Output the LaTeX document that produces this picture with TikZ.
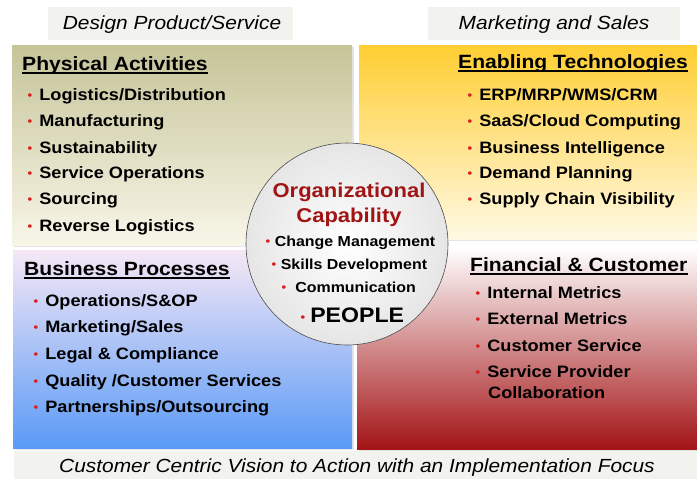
\documentclass[tikz,border=0pt]{standalone}
\usepackage{fontspec}
\setmainfont[FakeStretch=1.1]{Liberation Sans}
\usetikzlibrary{shadows}
\definecolor{bulred}{RGB}{220,30,30}
\definecolor{titlered}{RGB}{160,20,20}
\definecolor{labelgray}{RGB}{242,242,238}
\definecolor{olivetop}{RGB}{198,196,152}
\definecolor{olivebot}{RGB}{248,246,232}
\definecolor{goldtop}{RGB}{255,206,50}
\definecolor{goldbot}{RGB}{255,249,228}
\definecolor{pinktop}{RGB}{246,232,246}
\definecolor{bluebot}{RGB}{90,154,246}
\definecolor{redtop}{RGB}{255,255,255}
\definecolor{redbot}{RGB}{163,20,22}
\newcommand\bul[1][7pt]{{\color{bulred}\fontsize{12}{12}\selectfont\raisebox{1pt}{•}}\hspace{#1}}
\tikzset{
  panel/.style={draw=none, inner sep=0pt, drop shadow={shadow xshift=1.5pt, shadow yshift=-1.5pt, opacity=0.2}},
  lab/.style={fill=labelgray, inner sep=0pt},
  labt/.style={anchor=base, inner sep=0pt, font=\fontsize{19}{22}\selectfont\itshape},
  head/.style={anchor=base west, inner sep=0pt, font=\fontsize{19.2}{22}\selectfont\bfseries},
  item/.style={anchor=base west, inner sep=0pt, font=\fontsize{16.5}{19}\selectfont\bfseries},
  citem/.style={anchor=base west, inner sep=0pt, font=\fontsize{14.5}{17}\selectfont\bfseries},
  uline/.style={line width=1.4pt, black}
}
\begin{document}
\begin{tikzpicture}[x=1pt,y=-1pt]
\useasboundingbox (0,0) rectangle (697,479);
\fill[white] (0,0) rectangle (697,479);
% top labels
\node[lab, minimum width=245pt, minimum height=33pt] (design) at (170.5,23.5) {};
\node[labt] (designt) at (172,30) {Design Product/Service};
\node[lab, minimum width=252pt, minimum height=33pt] (market) at (554,23.5) {};
\node[labt] (markett) at (554,30) {Marketing and Sales};
% panels
\node[panel, top color=olivetop, bottom color=olivebot, minimum width=340pt, minimum height=200pt] (pa) at (182,145) {};
\node[panel, top color=goldtop, bottom color=goldbot, minimum width=338pt, minimum height=194pt] (et) at (528,142) {};
\node[panel, top color=pinktop, bottom color=bluebot, minimum width=339pt, minimum height=198pt] (bp) at (182.5,349) {};
\node[panel, top color=redtop, bottom color=redbot, minimum width=340pt, minimum height=202pt] (fc) at (527,348) {};
% bottom label
\node[lab, minimum width=683pt, minimum height=28pt] (vision) at (355.5,465) {};
\node[labt] (visiont) at (357,472) {Customer Centric Vision to Action with an Implementation Focus};
% Physical Activities
\node[head] (pah) at (22,70) {Physical Activities};
\draw[uline] ([yshift=-3pt]pah.base west) -- ([yshift=-3pt]pah.base east);
\node[item] (pa1) at (27.5,100) {\bul Logistics/Distribution};
\node[item] (pa2) at (27.5,126) {\bul Manufacturing};
\node[item] (pa3) at (27.5,153) {\bul Sustainability};
\node[item] (pa4) at (27.5,178) {\bul Service Operations};
\node[item] (pa5) at (27.5,204) {\bul Sourcing};
\node[item] (pa6) at (27.5,231) {\bul Reverse Logistics};
% Enabling Technologies
\node[head] (eth) at (458,68) {Enabling Technologies};
\draw[uline] ([yshift=-3pt]eth.base west) -- ([yshift=-3pt]eth.base east);
\node[item] (et1) at (467.5,100) {\bul ERP/MRP/WMS/CRM};
\node[item] (et2) at (467.5,126) {\bul SaaS/Cloud Computing};
\node[item] (et3) at (467.5,153) {\bul Business Intelligence};
\node[item] (et4) at (467.5,178) {\bul Demand Planning};
\node[item] (et5) at (467.5,204) {\bul Supply Chain Visibility};
% Business Processes
\node[head] (bph) at (24,275) {Business Processes};
\draw[uline] ([yshift=-3pt]bph.base west) -- ([yshift=-3pt]bph.base east);
\node[item] (bp1) at (33.5,306) {\bul Operations/S\&OP};
\node[item] (bp2) at (33.5,332) {\bul Marketing/Sales};
\node[item] (bp3) at (33.5,359) {\bul Legal \& Compliance};
\node[item] (bp4) at (33.5,386) {\bul Quality /Customer Services};
\node[item] (bp5) at (33.5,412) {\bul Partnerships/Outsourcing};
% Financial & Customer
\node[head] (fch) at (470,271) {Financial \& Customer};
\draw[uline] ([yshift=-3pt]fch.base west) -- ([yshift=-3pt]fch.base east);
\node[item] (fc1) at (475.5,298) {\bul Internal Metrics};
\node[item] (fc2) at (475.5,324) {\bul External Metrics};
\node[item] (fc3) at (475.5,351) {\bul Customer Service};
\node[item] (fc4) at (475.5,377) {\bul Service Provider};
\node[item] (fc5) at (488,398) {Collaboration};
% circle
\node[circle, draw=black!70, line width=0.6pt, minimum size=202pt, inner sep=0pt, shading=radial, inner color=white, outer color=black!10] (oc) at (347,244) {};
\node[anchor=base, inner sep=0pt, font=\fontsize{20}{22}\selectfont\bfseries, text=titlered] (oc1) at (349,197) {Organizational};
\node[anchor=base, inner sep=0pt, font=\fontsize{20}{22}\selectfont\bfseries, text=titlered] (oc2) at (349,222) {Capability};
\node[citem] (oc3) at (265.5,246) {\bul[4.5pt]Change Management};
\node[citem] (oc4) at (271.5,269) {\bul[4.5pt]Skills Development};
\node[citem] (oc5) at (281.5,292) {\bul[9pt]Communication};
\node[anchor=base west, inner sep=0pt, font=\fontsize{21}{24}\selectfont\bfseries] (oc6) at (300.5,322) {\bul[5pt]PEOPLE};
\end{tikzpicture}
\end{document}
